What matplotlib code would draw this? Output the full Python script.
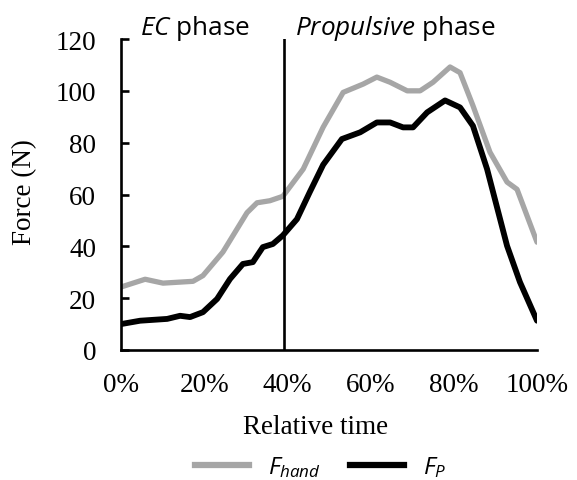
import numpy as np
import matplotlib
matplotlib.use('Agg')
import matplotlib.pyplot as plt
from matplotlib.lines import Line2D

# data (relative time in %, force in N)
t_hand = [0, 5.8, 10.1, 17.3, 19.7, 24.5, 30.3, 32.7, 35.8, 38.9, 43.8, 48.6,
          53.4, 58.2, 61.5, 64.7, 68.8, 71.9, 75.0, 79.1, 81.5, 84.6, 88.7,
          92.8, 95.2, 97.6, 100]
f_hand = [24.3, 27.3, 25.8, 26.5, 28.7, 37.8, 53.0, 56.8, 57.6, 59.3, 69.8, 86.0,
          99.4, 102.6, 105.3, 103.3, 100.0, 100.0, 103.3, 109.2, 107.0, 94.3, 76.3,
          64.8, 62.0, 51.8, 41.6]

t_p = [0, 4.6, 11.1, 14.2, 16.6, 19.7, 23.1, 26.2, 29.3, 31.7, 34.1, 36.5, 38.9,
       42.3, 45.4, 48.6, 53.1, 57.5, 61.5, 64.7, 67.8, 70.2, 73.6, 77.9, 81.5,
       84.6, 88.0, 92.8, 95.9, 100]
f_p = [10.0, 11.3, 12.0, 13.2, 12.7, 14.6, 19.7, 27.4, 33.2, 33.9, 39.7, 40.9, 44.2,
       50.5, 61.0, 71.5, 81.4, 84.0, 87.8, 87.8, 85.9, 85.9, 91.7, 96.3, 93.6,
       86.5, 69.8, 40.2, 26.2, 11.3]

phase_split = 39.2
xticks = [0, 20, 40, 60, 80, 100]
yticks = [0, 20, 40, 60, 80, 100, 120]

plt.rcParams['mathtext.fontset'] = 'custom'
plt.rcParams['mathtext.rm'] = 'Open Sans'
plt.rcParams['mathtext.it'] = 'Open Sans:italic'

serif = 'Liberation Serif'
sans = 'Open Sans'
fs = 19.5

fig = plt.figure(figsize=(5.77, 4.81), dpi=100)
ax = fig.add_axes([121/577, 1 - 351/481, 416/577, 311/481])

ax.plot(t_hand, f_hand, color='#a6a6a6', lw=3.8, solid_capstyle='round',
        solid_joinstyle='round')
ax.plot(t_p, f_p, color='black', lw=4.2, solid_capstyle='round',
        solid_joinstyle='round')
ax.axvline(phase_split, color='black', lw=1.9)

ax.set_xlim(0, 100)
ax.set_ylim(0, 120)
ax.set_xticks(xticks)
ax.set_xticklabels([f'{v}%' for v in xticks], family=serif, fontsize=fs)
ax.set_yticks(yticks)
ax.set_yticklabels([str(v) for v in yticks], family=serif, fontsize=fs)
ax.tick_params(axis='y', direction='in', length=6, width=1.9, pad=18)
ax.tick_params(axis='x', length=0, pad=16)
for s in ['top', 'right']:
    ax.spines[s].set_visible(False)
for s in ['left', 'bottom']:
    ax.spines[s].set_linewidth(1.9)

fig.text(316/577, 1 - 434/481, 'Relative time', family=serif, fontsize=fs,
         ha='center', va='baseline')
fig.text(25/577, 1 - 192/481, 'Force (N)', family=serif, fontsize=fs,
         ha='center', va='center', rotation=90)

fig.text(140/577, 1 - 35/481, r'$\mathit{EC}$ phase', family=sans, fontsize=18.8,
         ha='left', va='baseline')
fig.text(295/577, 1 - 35/481, r'$\mathit{Propulsive}$ phase', family=sans,
         fontsize=18.8, ha='left', va='baseline')

handles = [Line2D([], [], color='#a6a6a6', lw=4.5),
           Line2D([], [], color='black', lw=4.5)]
fig.legend(handles, [r'$F_{hand}$', r'$F_{P}$'], loc='center',
           bbox_to_anchor=(321/577, 1 - 468/481), ncol=2, frameon=False,
           fontsize=17.5, handlelength=2.2, handletextpad=0.8, columnspacing=1.2)

fig.savefig('out.png', dpi=100)
